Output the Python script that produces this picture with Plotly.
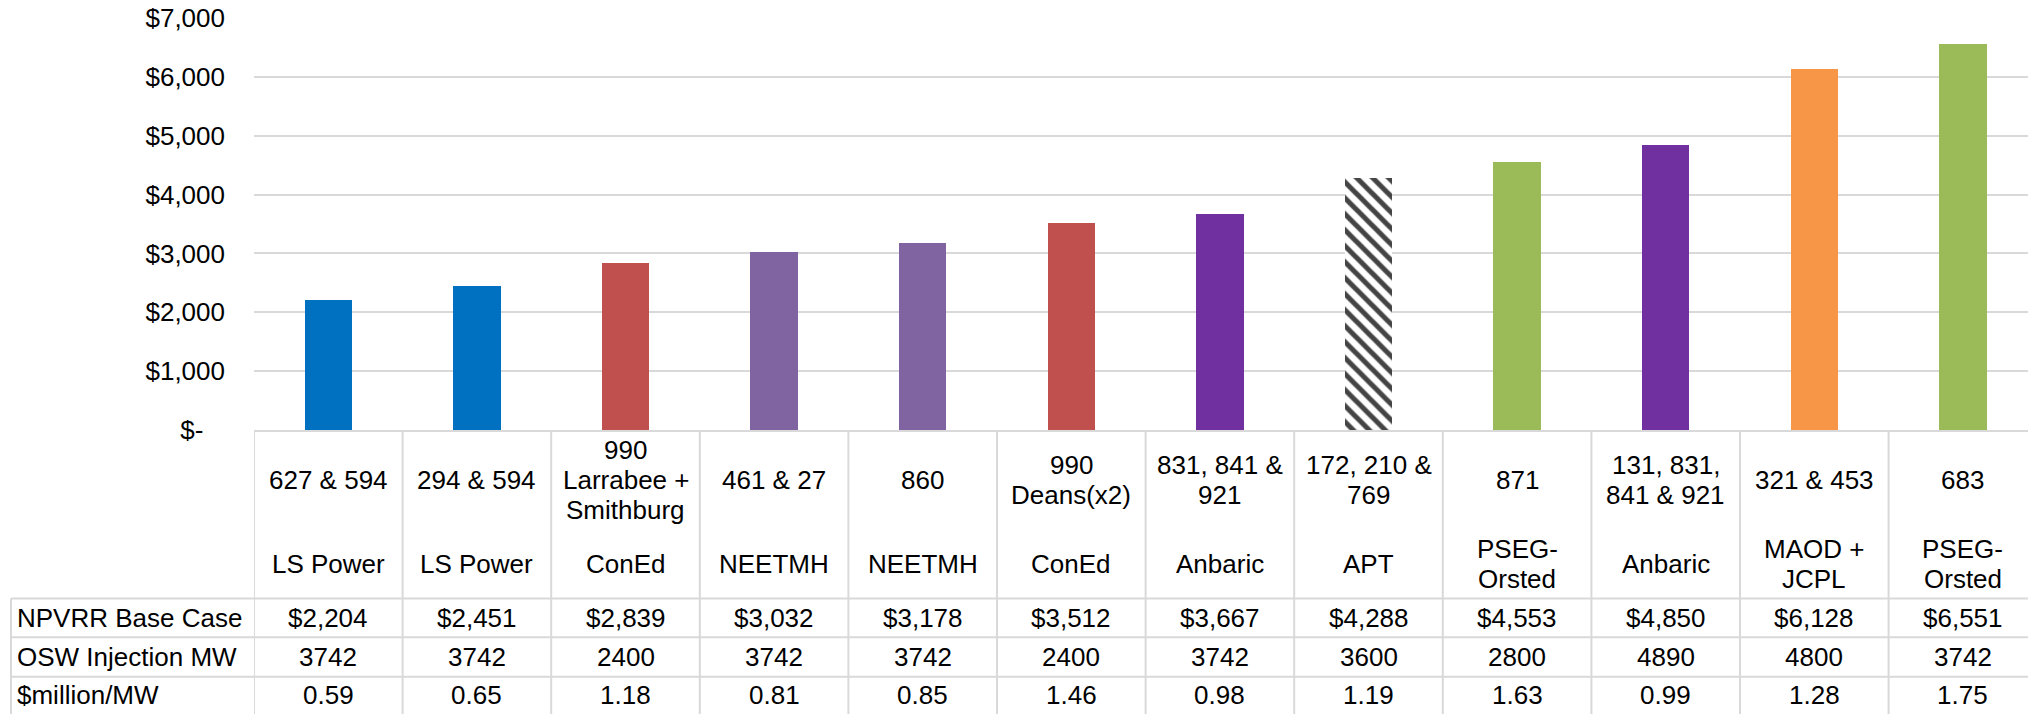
import plotly.graph_objects as go

# ---------------- data ----------------
locations = ["627 & 594", "294 & 594", "990\nLarrabee +\nSmithburg", "461 & 27", "860",
             "990\nDeans(x2)", "831, 841 &\n921", "172, 210 &\n769", "871",
             "131, 831,\n841 & 921", "321 & 453", "683"]
companies = ["LS Power", "LS Power", "ConEd", "NEETMH", "NEETMH", "ConEd", "Anbaric", "APT",
             "PSEG-\nOrsted", "Anbaric", "MAOD +\nJCPL", "PSEG-\nOrsted"]
npvrr = [2204, 2451, 2839, 3032, 3178, 3512, 3667, 4288, 4553, 4850, 6128, 6551]
osw_mw = [3742, 3742, 2400, 3742, 3742, 2400, 3742, 3600, 2800, 4890, 4800, 3742]
per_mw = [0.59, 0.65, 1.18, 0.81, 0.85, 1.46, 0.98, 1.19, 1.63, 0.99, 1.28, 1.75]
row_labels = ["NPVRR Base Case", "OSW Injection MW", "$million/MW"]
y_tickvals = [0, 1000, 2000, 3000, 4000, 5000, 6000, 7000]
y_ticktext = ["$-\u00a0\u00a0\u00a0", "$1,000", "$2,000", "$3,000", "$4,000", "$5,000", "$6,000", "$7,000"]

bar_colors = ["#0070C0", "#0070C0", "#C0504D", "#8064A2", "#8064A2", "#C0504D",
              "#7030A0", "#FFFFFF", "#9BBB59", "#7030A0", "#F79646", "#9BBB59"]
bar_patterns = ["", "", "", "", "", "", "", "\\", "", "", "", ""]

# ---------------- layout geometry (pixels) ----------------
W, H = 2028, 714
ML, MR, MT, MB = 254, 0, 18, 284
PH = H - MT - MB          # plot height
PW = W - ML - MR
FONT = "Liberation Sans, Arial, sans-serif"
FS = 26
GRID = "#D9D9D9"

def yp(pix):
    return (H - MB - pix) / PH

def xp(pix):
    return (pix - ML) / PW

n = len(npvrr)
xs = list(range(n))

fig = go.Figure()
fig.add_trace(go.Bar(
    x=xs, y=npvrr, width=0.318,
    marker=dict(color=bar_colors, line=dict(width=0),
                pattern=dict(shape=bar_patterns, fgcolor="#000000",
                             fgopacity=1, size=11.3, solidity=0.45, fillmode="overlay")),
    hoverinfo="skip", showlegend=False,
))

shapes = []
line = dict(color=GRID, width=2)
# table top
shapes.append(dict(type="line", xref="paper", yref="paper", x0=0, x1=1,
                   y0=yp(431), y1=yp(431), line=line, layer="above"))
# row separators
for ypix in [598.5, 637.3, 676.7]:
    shapes.append(dict(type="line", xref="paper", yref="paper", x0=xp(11), x1=1,
                       y0=yp(ypix), y1=yp(ypix), line=line))
# left border of row label column
shapes.append(dict(type="line", xref="paper", yref="paper", x0=xp(11), x1=xp(11),
                   y0=yp(598.5), y1=yp(H + 2), line=line))
# column separators
for k in range(n + 1):
    shapes.append(dict(type="line", xref="x", yref="paper", x0=k - 0.5, x1=k - 0.5,
                       y0=yp(431), y1=yp(H + 2), line=line))

annotations = []
LH = 30
def add_lines(i, text, center):
    lines = text.split("\n")
    m = len(lines)
    for j, t in enumerate(lines):
        ypix = center + (j - (m - 1) / 2) * LH
        annotations.append(dict(x=i, xref="x", y=yp(ypix), yref="paper", text=t,
                                showarrow=False, xanchor="center", yanchor="middle",
                                font=dict(family=FONT, size=FS, color="black")))

for i in range(n):
    add_lines(i, locations[i], 480)
    add_lines(i, companies[i], 564)
    add_lines(i, f"${npvrr[i]:,}", 618)
    add_lines(i, f"{osw_mw[i]}", 657)
    add_lines(i, f"{per_mw[i]:.2f}", 695)

for lbl, ypix in zip(row_labels, [618, 657, 695]):
    annotations.append(dict(x=xp(15), xref="paper", y=yp(ypix), yref="paper", text=lbl,
                            showarrow=False, xanchor="left", yanchor="middle",
                            font=dict(family=FONT, size=FS, color="black")))

fig.update_layout(
    width=W, height=H,
    margin=dict(l=ML, r=MR, t=MT, b=MB, pad=0),
    paper_bgcolor="white", plot_bgcolor="white",
    font=dict(family=FONT, size=FS, color="black"),
    xaxis=dict(range=[-0.5, -0.5 + PW / 148.6], showticklabels=False, showgrid=False,
               zeroline=False, showline=False, ticks="", fixedrange=True),
    yaxis=dict(range=[0, 7000], tickvals=y_tickvals, ticktext=y_ticktext,
               showgrid=True, gridcolor=GRID, gridwidth=1.5, zeroline=False,
               showline=False, ticks="", ticklabelstandoff=28,
               tickfont=dict(family=FONT, size=FS, color="black"), fixedrange=True),
    shapes=shapes, annotations=annotations,
    bargap=0,
)

fig.write_html(
    "out.html",
    config={"displayModeBar": False},
    post_script="document.body.style.margin='0';document.body.style.overflow='hidden';",
)
